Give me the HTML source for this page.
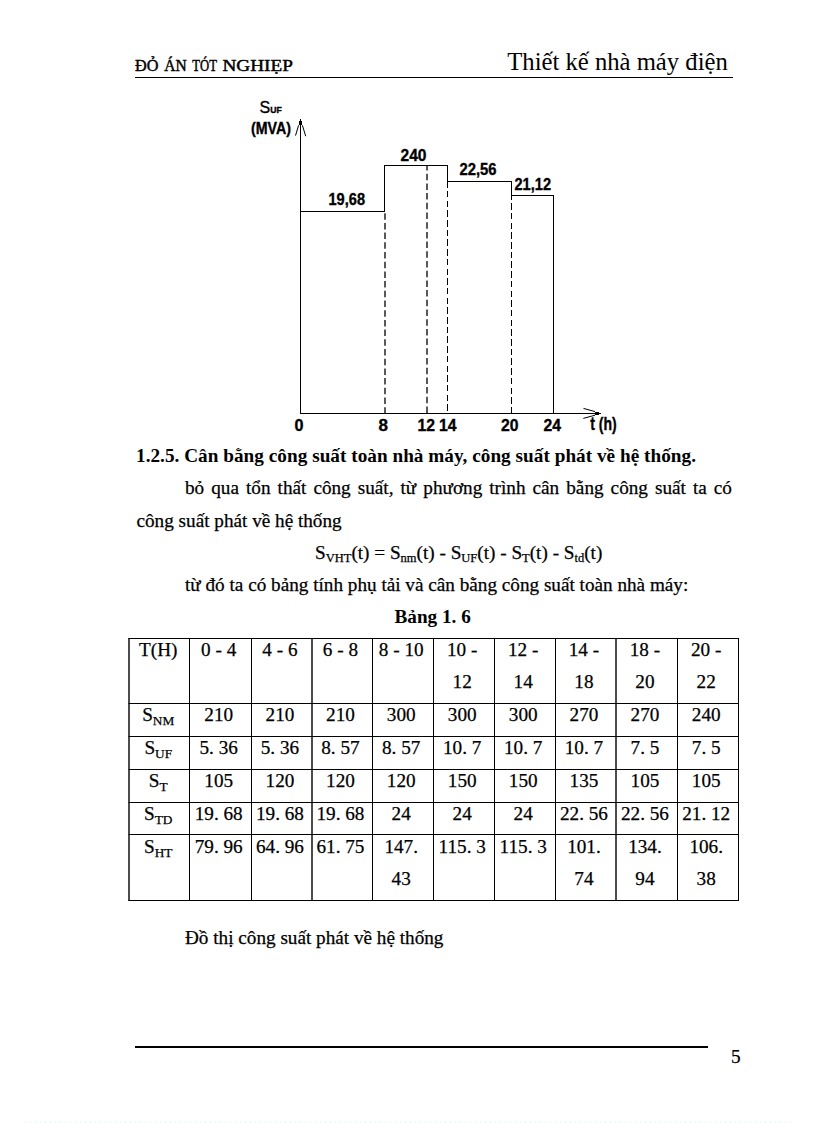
<!DOCTYPE html><html><head><meta charset="utf-8"><style>html,body{margin:0;padding:0;background:#fff;width:816px;height:1123px;overflow:hidden}svg{display:block}</style></head><body>
<svg width="816" height="1123" viewBox="0 0 816 1123">
<rect width="816" height="1123" fill="#fff"/>
<g font-family='"Liberation Serif", serif' fill="#000">
<text x="135.0" y="70.6" font-size="16.45" stroke="#000" stroke-width="0.45" textLength="23.4" lengthAdjust="spacingAndGlyphs">ĐỎ</text>
<text x="164.2" y="70.6" font-size="16.45" stroke="#000" stroke-width="0.45" textLength="22.4" lengthAdjust="spacingAndGlyphs">ÁN</text>
<text x="192.3" y="70.6" font-size="16.45" stroke="#000" stroke-width="0.45" textLength="24.6" lengthAdjust="spacingAndGlyphs">TÓT</text>
<text x="222.5" y="70.6" font-size="16.45" stroke="#000" stroke-width="0.45" textLength="70.4" lengthAdjust="spacingAndGlyphs">NGHIẸP</text>
<text x="507.3" y="69.7" font-size="24.67">Thiết kế nhà máy điện</text>
</g>
<rect x="135" y="77" width="598" height="1" fill="#000"/>
<g stroke="#000" stroke-width="1" fill="none" shape-rendering="crispEdges">
<line x1="300.5" y1="119" x2="300.5" y2="413.5"/>
<line x1="300" y1="413.5" x2="601" y2="413.5"/>
<polyline points="300,211.5 384.5,211.5 384.5,165.5 447.5,165.5 447.5,181.5 511.5,181.5 511.5,195.5 553.5,195.5 553.5,413"/>
</g>
<g stroke="#000" stroke-width="1" fill="none">
<line x1="298.6" y1="125.3" x2="295.5" y2="135.6"/>
<line x1="302.4" y1="125.3" x2="305.7" y2="136.2"/>
<line x1="583.5" y1="408.4" x2="595" y2="411.6"/>
<line x1="583.3" y1="418.4" x2="595" y2="415.2"/>
</g>
<rect x="299" y="121" width="3" height="4" fill="#000"/>
<rect x="595" y="412" width="4" height="3" fill="#000"/>
<g stroke="#000" stroke-width="1" fill="none" stroke-dasharray="6.5 3.2" shape-rendering="crispEdges">
<line x1="447.5" y1="182" x2="447.5" y2="413" stroke-dashoffset="0.8"/>
<line x1="511.5" y1="196" x2="511.5" y2="413" stroke-dashoffset="2.5"/>
</g>
<g stroke="#000" stroke-width="1.3" fill="none" stroke-dasharray="6.5 3.2">
<line x1="385" y1="212" x2="385" y2="413" stroke-dashoffset="8.5"/>
<line x1="427" y1="166" x2="427" y2="413" stroke-dashoffset="2.0"/>
</g>
<g font-family='"Liberation Sans", sans-serif' font-weight="bold" fill="#000" stroke="#000" stroke-width="0.35" font-size="16">
<text x="328.5" y="204.5" font-size="17" textLength="36.5" lengthAdjust="spacingAndGlyphs" >19,68</text>
<text x="400.5" y="161" font-size="17" textLength="26" lengthAdjust="spacingAndGlyphs" >240</text>
<text x="459.5" y="175" font-size="17" textLength="37" lengthAdjust="spacingAndGlyphs" >22,56</text>
<text x="514.5" y="189.6" font-size="17" textLength="36.5" lengthAdjust="spacingAndGlyphs" >21,12</text>
<text x="294.5" y="430.8" font-size="17" textLength="9" lengthAdjust="spacingAndGlyphs" >0</text>
<text x="378.5" y="430.8" font-size="17" textLength="9.5" lengthAdjust="spacingAndGlyphs" >8</text>
<text x="417.5" y="430.8" font-size="17" textLength="17.5" lengthAdjust="spacingAndGlyphs" >12</text>
<text x="439" y="430.8" font-size="17" textLength="17.5" lengthAdjust="spacingAndGlyphs" >14</text>
<text x="501" y="430.8" font-size="17" textLength="17.5" lengthAdjust="spacingAndGlyphs" >20</text>
<text x="543.5" y="430.8" font-size="17" textLength="17.5" lengthAdjust="spacingAndGlyphs" >24</text>
<text x="590.3" y="429.6" font-size="18" textLength="26.5" lengthAdjust="spacingAndGlyphs" >t (h)</text>
<text x="251" y="133.6" font-size="16" textLength="40" lengthAdjust="spacingAndGlyphs" >(MVA)</text>
<text x="259.5" y="113" font-size="16" font-weight="normal">S<tspan font-size="8.6" font-weight="bold">UF</tspan></text>
</g>
<g font-family='"Liberation Serif", serif' fill="#000" stroke="#000" stroke-width="0.25" font-size="19.19">
<text x="136" y="462" font-weight="bold" stroke-width="0" textLength="560" lengthAdjust="spacing">1.2.5. Cân bằng công suất toàn nhà máy, công suất phát về hệ thống.</text>
<text x="185" y="493.5" word-spacing="2.26">bỏ qua tổn thất công suất, từ phương trình cân bằng công suất ta có</text>
<text x="136.5" y="527.4">công suất phát về hệ thống</text>
<text x="315" y="559">S<tspan font-size="12.5" dy="3">VHT</tspan><tspan dy="-3">(t) = S<tspan font-size="12.5" dy="3">nm</tspan><tspan dy="-3">(t) - S<tspan font-size="12.5" dy="3">UF</tspan><tspan dy="-3">(t) - S<tspan font-size="12.5" dy="3">T</tspan><tspan dy="-3">(t) - S<tspan font-size="12.5" dy="3">td</tspan><tspan dy="-3">(t)</tspan></tspan></tspan></tspan></tspan></text>
<text x="185" y="591">từ đó ta có bảng tính phụ tải và cân bằng công suất toàn nhà máy:</text>
<text x="394.5" y="622.7" font-weight="bold" stroke-width="0">Bảng 1. 6</text>
<text x="185" y="944">Đồ thị công suất phát về hệ thống</text>
<text x="731" y="1062.8">5</text>
</g>
<g fill="#000">
<rect x="128.3" y="638" width="1.4" height="263"/>
<rect x="189" y="638" width="1" height="263"/>
<rect x="251" y="638" width="1" height="263"/>
<rect x="311.3" y="638" width="1.4" height="263"/>
<rect x="372" y="638" width="1" height="263"/>
<rect x="433" y="638" width="1" height="263"/>
<rect x="494" y="638" width="1" height="263"/>
<rect x="555" y="638" width="1" height="263"/>
<rect x="615.3" y="638" width="1.4" height="263"/>
<rect x="677" y="638" width="1" height="263"/>
<rect x="738" y="638" width="1" height="263"/>
<rect x="128.5" y="638" width="610.5" height="1"/>
<rect x="128.5" y="703" width="610.5" height="1"/>
<rect x="128.5" y="736" width="610.5" height="1"/>
<rect x="128.5" y="769" width="610.5" height="1"/>
<rect x="128.5" y="802" width="610.5" height="1"/>
<rect x="128.5" y="834" width="610.5" height="1"/>
<rect x="128.5" y="900" width="610.5" height="1"/>
</g>
<g font-family='"Liberation Serif", serif' fill="#000" stroke="#000" stroke-width="0.25" font-size="19.19" text-anchor="middle">
<text x="218.7" y="656">0 - 4</text>
<text x="279.95" y="656">4 - 6</text>
<text x="340.45" y="656">6 - 8</text>
<text x="401.2" y="656">8 - 10</text>
<text x="462.2" y="656">10 -</text>
<text x="462.2" y="688">12</text>
<text x="523.2" y="656">12 -</text>
<text x="523.2" y="688">14</text>
<text x="583.95" y="656">14 -</text>
<text x="583.95" y="688">18</text>
<text x="644.95" y="656">18 -</text>
<text x="644.95" y="688">20</text>
<text x="706.2" y="656">20 -</text>
<text x="706.2" y="688">22</text>
<text x="158.25" y="656">T(H)</text>
<text x="218.7" y="721">210</text>
<text x="279.95" y="721">210</text>
<text x="340.45" y="721">210</text>
<text x="401.2" y="721">300</text>
<text x="462.2" y="721">300</text>
<text x="523.2" y="721">300</text>
<text x="583.95" y="721">270</text>
<text x="644.95" y="721">270</text>
<text x="706.2" y="721">240</text>
<text x="158.25" y="721">S<tspan font-size="13.3" dy="3.5">NM</tspan></text>
<text x="218.7" y="754">5. 36</text>
<text x="279.95" y="754">5. 36</text>
<text x="340.45" y="754">8. 57</text>
<text x="401.2" y="754">8. 57</text>
<text x="462.2" y="754">10. 7</text>
<text x="523.2" y="754">10. 7</text>
<text x="583.95" y="754">10. 7</text>
<text x="644.95" y="754">7. 5</text>
<text x="706.2" y="754">7. 5</text>
<text x="158.25" y="754">S<tspan font-size="13.3" dy="3.5">UF</tspan></text>
<text x="218.7" y="787">105</text>
<text x="279.95" y="787">120</text>
<text x="340.45" y="787">120</text>
<text x="401.2" y="787">120</text>
<text x="462.2" y="787">150</text>
<text x="523.2" y="787">150</text>
<text x="583.95" y="787">135</text>
<text x="644.95" y="787">105</text>
<text x="706.2" y="787">105</text>
<text x="158.25" y="787">S<tspan font-size="13.3" dy="3.5">T</tspan></text>
<text x="218.7" y="820">19. 68</text>
<text x="279.95" y="820">19. 68</text>
<text x="340.45" y="820">19. 68</text>
<text x="401.2" y="820">24</text>
<text x="462.2" y="820">24</text>
<text x="523.2" y="820">24</text>
<text x="583.95" y="820">22. 56</text>
<text x="644.95" y="820">22. 56</text>
<text x="706.2" y="820">21. 12</text>
<text x="158.25" y="820">S<tspan font-size="13.3" dy="3.5">TD</tspan></text>
<text x="218.7" y="853">79. 96</text>
<text x="279.95" y="853">64. 96</text>
<text x="340.45" y="853">61. 75</text>
<text x="401.2" y="853">147.</text>
<text x="401.2" y="884.7">43</text>
<text x="462.2" y="853">115. 3</text>
<text x="523.2" y="853">115. 3</text>
<text x="583.95" y="853">101.</text>
<text x="583.95" y="884.7">74</text>
<text x="644.95" y="853">134.</text>
<text x="644.95" y="884.7">94</text>
<text x="706.2" y="853">106.</text>
<text x="706.2" y="884.7">38</text>
<text x="158.25" y="853">S<tspan font-size="13.3" dy="3.5">HT</tspan></text>
</g>
<rect x="135" y="1046" width="573" height="2" fill="#000"/>
<line x1="25" y1="1122.5" x2="791" y2="1122.5" stroke="#c0faff" stroke-width="1" stroke-dasharray="1 4"/>
</svg></body></html>
